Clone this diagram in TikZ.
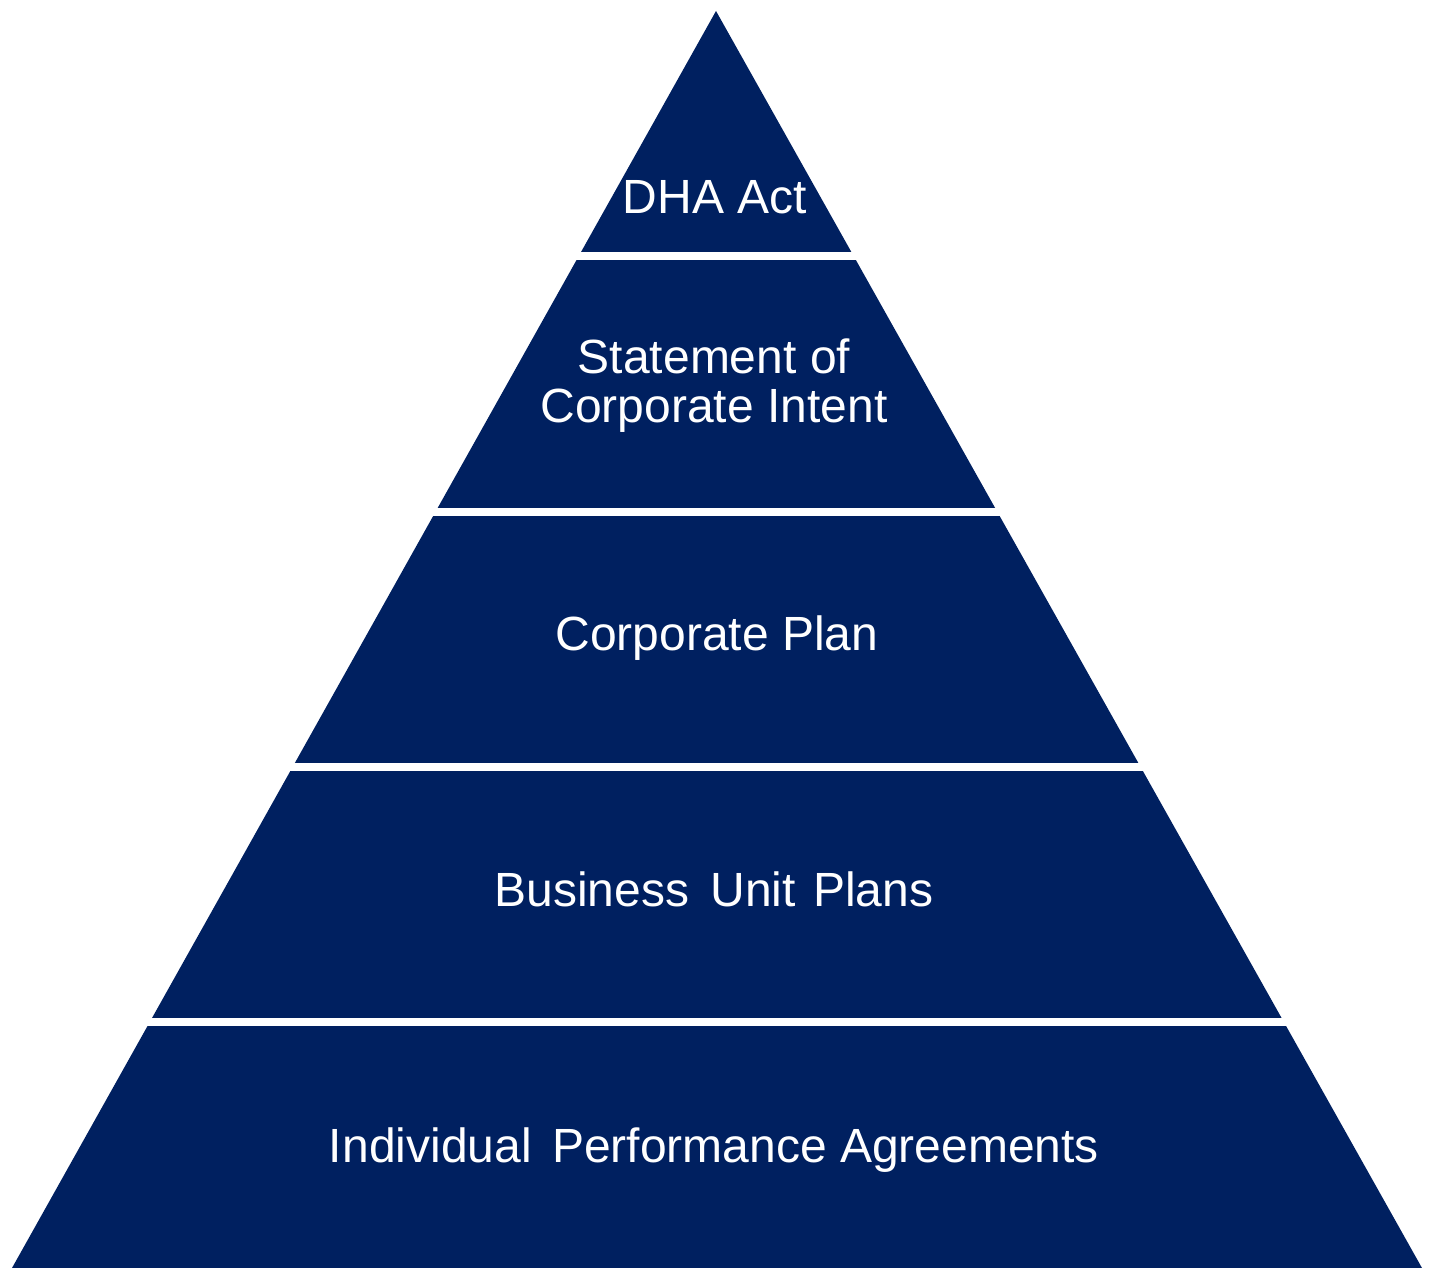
\documentclass[tikz,border=0pt]{standalone}
\usepackage{fontspec}
\setmainfont{Liberation Sans}
\definecolor{navy}{RGB}{0,32,96}
\begin{document}
\begin{tikzpicture}[x=1pt,y=-1pt,
  band/.style={fill=navy,draw=none},
  divider/.style={draw=white,line width=8pt},
  label/.style={text=white,anchor=base,inner sep=0pt,align=center,
    font=\fontsize{48}{49}\selectfont}]
  \useasboundingbox[fill=white] (0,0) rectangle (1434,1268);
  % pyramid outline
  \coordinate (apex) at (716,11);
  \coordinate (bl) at (12,1268);
  \coordinate (br) at (1422,1268);
  \fill[band] (apex) -- (br) -- (bl) -- cycle;
  % white separators between levels
  \foreach \y in {256,512,767,1022}
    \draw[divider] (0,\y) -- (1434,\y);
  % level labels (multi-line nodes sit on their last baseline)
  \node[label] (act) at (715,213) {DHA Act};
  \node[label] (sci) at (714,422) {Statement of\\Corporate Intent};
  \node[label] (cp) at (717,650) {Corporate Plan};
  \node[label] (bup) at (714,906) {Business\hspace{8pt} Unit\hspace{4pt} Plans};
  \node[label] (ipa) at (714,1162) {Individual\hspace{7pt} Performance Agreements};
\end{tikzpicture}
\end{document}
